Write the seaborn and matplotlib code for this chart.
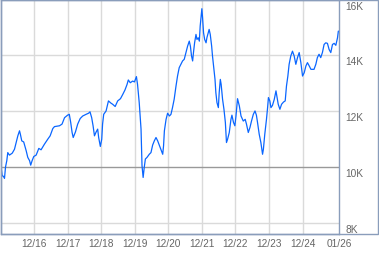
import numpy as np
import pandas as pd
import matplotlib
matplotlib.use("Agg")
import matplotlib.pyplot as plt
import matplotlib.dates as mdates
import matplotlib.transforms as mtransforms
from matplotlib.patches import Rectangle
import seaborn as sns

# ---- data (months elapsed since 2015-12-01, growth of 10K in thousands) ----
months = [0, 0.25, 0.6, 1.07, 1.43, 1.79, 2.25, 2.6, 3.2, 4.2, 5.0, 5.6, 6.2, 6.8, 7.1, 7.6,
          8.3, 9.2, 9.75, 10.4, 10.8, 11.3, 11.9, 12.75, 13.7, 14.5, 15.7, 16.9, 17.75, 18.7,
          19.3, 21.1, 22.0, 22.9, 24.0, 24.6, 25.1, 25.6, 26.0, 26.8, 27.6, 28.5, 29.4, 30.6,
          31.5, 32.0, 32.6, 33.1, 33.6, 34.2, 34.75, 35.1, 35.7, 36.2, 36.5, 36.9, 37.75, 38.6,
          39.5, 40.1, 41.0, 41.9, 42.9, 43.7, 44.5, 45.25, 45.7, 46.4, 47.25, 47.9, 48.6, 49.0,
          49.6, 50.25, 50.6, 51.0, 51.4, 51.8, 52.4, 53.2, 53.8, 54.4, 55.0, 55.6, 56.2, 57.1,
          58.0, 58.3, 58.6, 59.2, 59.75, 60.4, 60.95, 61.5, 62.1, 62.75, 63.3, 63.9, 64.5, 65.1,
          65.7, 66.3, 66.9, 67.5, 67.9, 68.3, 68.7, 69.0, 69.4, 69.9, 70.25, 70.7, 71.1, 71.4,
          71.8, 72.0, 72.25, 72.6, 73.0, 73.5, 73.8, 74.3, 74.6, 75.0, 75.5, 75.8, 76.2, 76.7,
          77.0, 77.4, 77.9, 78.2, 78.6, 78.9, 79.4, 79.9, 80.4, 80.8, 81.2, 81.8, 82.4, 82.75,
          83.3, 83.8, 84.2, 84.75, 85.4, 86.0, 86.8, 87.5, 87.95, 88.6, 89.2, 89.75, 90.4, 91.0,
          91.5, 91.9, 92.5, 93.1, 93.7, 94.0, 94.5, 95.1, 95.5, 95.8, 96.3, 96.7, 97.25, 97.9,
          98.5, 98.8, 99.3, 99.9, 100.5, 101.2, 101.8, 102.25, 102.75, 103.2, 103.8, 104.4,
          105.0, 105.6, 106.2, 106.8, 107.4, 108.0, 108.6, 109.2, 109.75, 110.4, 111.0, 112.1,
          112.75, 113.3, 113.9, 114.5, 115.1, 115.7, 116.3, 116.9, 117.5, 118.1, 118.7, 119.3,
          119.9, 120.5, 120.8]
values_k = [10.05, 9.99, 9.69, 9.67, 9.60, 10.00, 10.23, 10.52, 10.43, 10.50, 10.64, 10.88,
            11.12, 11.30, 11.18, 10.94, 10.90, 10.58, 10.35, 10.23, 10.07, 10.23, 10.38, 10.43,
            10.67, 10.62, 10.82, 11.00, 11.12, 11.38, 11.45, 11.48, 11.54, 11.77, 11.86, 11.89,
            11.60, 11.24, 11.06, 11.26, 11.54, 11.74, 11.83, 11.89, 11.93, 11.98, 11.77, 11.48,
            11.12, 11.26, 11.36, 11.06, 10.74, 11.00, 11.54, 11.89, 12.01, 12.37, 12.29, 12.25,
            12.17, 12.37, 12.45, 12.60, 12.76, 12.96, 13.12, 13.02, 13.08, 13.05, 13.24, 12.96,
            12.31, 11.36, 10.05, 9.63, 9.99, 10.29, 10.35, 10.46, 10.52, 10.79, 10.94, 11.06,
            10.94, 10.70, 10.46, 10.76, 11.30, 11.71, 11.93, 11.83, 11.89, 12.13, 12.43, 12.90,
            13.26, 13.56, 13.68, 13.80, 13.86, 14.10, 14.33, 14.51, 14.33, 13.98, 13.80, 14.10,
            14.45, 14.75, 14.57, 14.63, 14.51, 15.05, 15.46, 15.67, 15.35, 14.81, 14.57, 14.45,
            14.63, 14.81, 14.93, 14.75, 14.33, 13.98, 13.62, 13.14, 12.67, 12.31, 12.13, 12.67,
            13.14, 12.96, 12.43, 12.07, 11.60, 10.88, 11.00, 11.24, 11.71, 11.86, 11.60, 11.48,
            11.83, 12.45, 12.19, 11.83, 11.65, 11.71, 11.54, 11.24, 11.42, 11.65, 11.89, 12.01,
            11.86, 11.60, 11.18, 10.88, 10.46, 10.64, 11.18, 11.71, 12.13, 12.49, 12.37, 12.13,
            12.21, 12.43, 12.73, 12.55, 12.25, 12.07, 12.25, 12.33, 12.37, 12.90, 13.26, 13.68,
            13.98, 14.15, 13.98, 13.68, 13.92, 14.10, 13.74, 13.26, 13.38, 13.62, 13.74, 13.62,
            13.50, 13.50, 13.68, 13.92, 14.04, 13.92, 14.10, 14.39, 14.45, 14.43, 14.21, 14.10,
            14.39, 14.43, 14.36, 14.63, 14.87]
x_tick_dates = ["2016-12-01", "2017-12-01", "2018-12-01", "2019-12-01", "2020-12-01",
                "2021-12-01", "2022-12-01", "2023-12-01", "2024-12-01", "2026-01-01"]
y_ticks = [8000, 10000, 12000, 14000, 16000]
y_tick_labels = ["8K", "10K", "12K", "14K", "16K"]
baseline = 10000

start = pd.Timestamp("2015-12-01")
df = pd.DataFrame({
    "date": start + pd.to_timedelta(np.array(months) * 30.4375, unit="D"),
    "value": np.array(values_k) * 1000.0,
})

sns.set_style("white")
plt.rcParams["font.family"] = ["Liberation Sans", "DejaVu Sans"]

W, H = 379, 255
fig = plt.figure(figsize=(W / 100, H / 100), dpi=100)
ax_left, ax_right, ax_top, ax_bottom = 0.5, 339.0, 0.5, 235.0
ax = fig.add_axes([ax_left / W, (H - ax_bottom) / H,
                   (ax_right - ax_left) / W, (ax_bottom - ax_top) / H])

frame_col = "#8a9dbb"
grid_col = "#dadada"
text_col = "#666666"

xt = pd.to_datetime(x_tick_dates)
for d in xt[:-1]:
    ax.axvline(d, color=grid_col, lw=1.0, zorder=1)
for yv in y_ticks:
    if yv != baseline and yv != 16000:
        ax.axhline(yv, color=grid_col, lw=1.0, zorder=1)
ax.axhline(baseline, color="#999999", lw=1.0, zorder=2)

sns.lineplot(data=df, x="date", y="value", ax=ax, color="#0a66ff", lw=0.9, zorder=3)

ax.set_xlim(start, pd.Timestamp("2026-01-01"))
ax.set_ylim(7606, 16000)
ax.set_xlabel("")
ax.set_ylabel("")

ax.set_xticks(xt)
ax.xaxis.set_major_formatter(mdates.DateFormatter("%m/%y"))
ax.tick_params(axis="x", length=0, pad=3.2, labelsize=7.3, labelcolor=text_col)

# y labels in the right-hand panel, sitting just below their gridlines
ax.set_yticks([])
lab_tr = mtransforms.offset_copy(ax.get_yaxis_transform(), fig=fig, x=6, y=-6, units="dots")
for yv, lab in zip(y_ticks, y_tick_labels):
    ax.text(1.0, yv, lab, transform=lab_tr, ha="left", va="center",
            fontsize=7.3, color=text_col, clip_on=False)

for s in ax.spines.values():
    s.set_color(frame_col)
    s.set_linewidth(1.0)

# outer frame enclosing the right-hand label panel
fig.patches.append(Rectangle((0.5 / W, (H - ax_bottom) / H), (377.5 - 0.5) / W,
                             (ax_bottom - ax_top) / H, transform=fig.transFigure,
                             fill=False, edgecolor=frame_col, lw=1.0, zorder=5))

fig.savefig("out.png", dpi=100)
